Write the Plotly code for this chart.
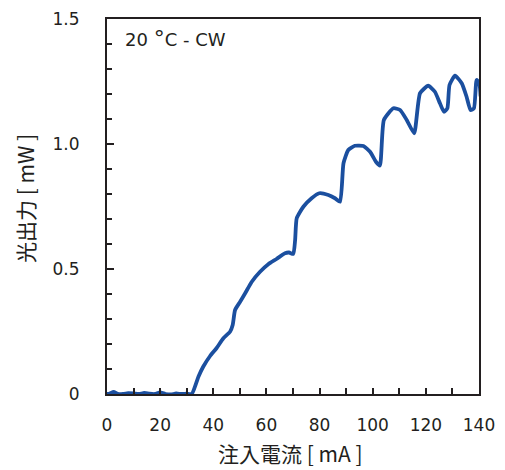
import plotly.graph_objects as go

current_mA = [0, 1, 2.5, 4, 6, 8, 10, 12, 14, 16, 18, 20, 22, 24, 26, 28, 30, 31.9,
              34.4, 36.2, 38.8, 41.2, 43.8, 46.3, 47.3, 48.2, 50.1, 52, 54.5, 57.6,
              60.7, 63.8, 67, 68.5, 70.1, 70.8, 71.4, 73.9, 77, 79.9, 83.3, 85.8, 87.7,
              89, 90.8, 93.3, 96.5, 99, 101.2, 102.7, 104.2, 107.8, 110.3, 112.8,
              115.6, 117.8, 120.9, 123.4, 125.3, 126.8, 128.1, 128.9, 131, 133.5,
              135.3, 136.8, 138.1, 139.1, 140.1, 140.6]
power_mW = [0, 0.002, 0.008, 0.001, 0.0, 0.003, 0.002, 0.0, 0.004, 0.001, 0.0, 0.006,
            0.0, -0.002, 0.002, 0.0, 0.001, 0.0,
            0.069, 0.109, 0.152, 0.183, 0.223, 0.249, 0.276, 0.336, 0.369, 0.403,
            0.449, 0.489, 0.519, 0.54, 0.563, 0.566, 0.56, 0.616, 0.703, 0.749, 0.783,
            0.803, 0.796, 0.783, 0.769, 0.923, 0.976, 0.993, 0.992, 0.969, 0.929,
            0.914, 1.096, 1.143, 1.136, 1.096, 1.043, 1.203, 1.233, 1.209, 1.163,
            1.129, 1.143, 1.236, 1.273, 1.243, 1.19, 1.136, 1.143, 1.256, 1.243, 1.19]

x_ticks = [0, 20, 40, 60, 80, 100, 120, 140]
y_ticks = [0, 0.5, 1.0, 1.5]
y_tick_labels = ["0", "0.5", "1.0", "1.5"]

dark = "#231f20"
tick_font = dict(family="DejaVu Sans", size=17, color=dark)
cjk_font = dict(family="Noto Sans CJK JP", size=21, color=dark)

fig = go.Figure()
fig.add_trace(go.Scatter(
    x=current_mA, y=power_mW, mode="lines",
    line=dict(color="#1b4f9f", width=3.8, shape="spline", smoothing=0.5),
    showlegend=False,
))

fig.update_layout(
    width=497, height=470,
    margin=dict(l=99, r=26, t=11, b=84),
    paper_bgcolor="white", plot_bgcolor="white",
    xaxis=dict(
        range=[0, 140], tickvals=x_ticks, ticks="inside", ticklen=6, tickwidth=2,
        tickcolor=dark, linecolor=dark, linewidth=2, mirror=True, showgrid=False,
        zeroline=False, tickfont=tick_font, ticklabelstandoff=15, automargin=False,
        minor=dict(dtick=10, ticks="inside", ticklen=6, tickwidth=2, tickcolor=dark, showgrid=False),
    ),
    yaxis=dict(
        range=[0, 1.5], tickvals=y_ticks, ticktext=y_tick_labels, ticks="inside",
        ticklen=7, tickwidth=2, tickcolor=dark, linecolor=dark, linewidth=2,
        mirror=True, showgrid=False, zeroline=False, tickfont=tick_font,
        ticklabelstandoff=22, automargin=False,
        minor=dict(dtick=0.1, ticks="inside", ticklen=5, tickwidth=2, tickcolor=dark, showgrid=False),
    ),
    annotations=[
        dict(x=0.043, y=0.948, xref="paper", yref="paper", xanchor="left", yanchor="middle",
             text="20 <span style='font-size:22px'>°</span>C - CW", showarrow=False,
             font=dict(family="DejaVu Sans", size=18, color=dark)),
        dict(x=0.492, y=-0.158, xref="paper", yref="paper", xanchor="center", yanchor="middle",
             text="注入電流 [ mA ]", showarrow=False, font=cjk_font),
        dict(x=-0.2204, y=0.52, xref="paper", yref="paper", xanchor="center", yanchor="middle",
             text="光出力 [ mW ]", showarrow=False, font=cjk_font, textangle=-90),
    ],
)

fig.write_html("out.html")
